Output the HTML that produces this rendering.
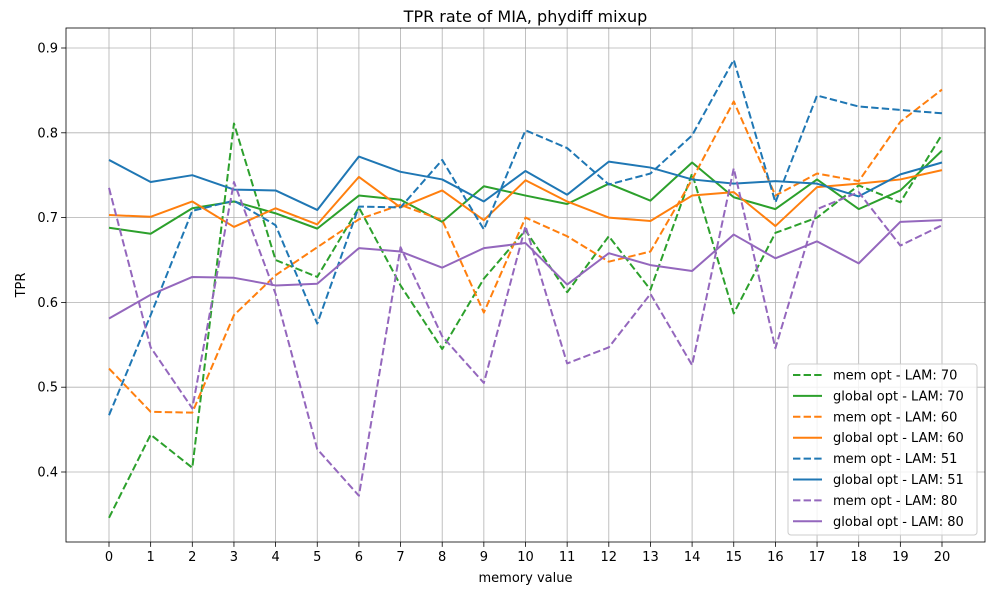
<!DOCTYPE html>
<html><head><meta charset="utf-8"><style>
body{margin:0;background:#fff;font-family:"Liberation Sans","DejaVu Sans",sans-serif}
</style></head><body>
<svg id="chart" width="1000" height="600" xmlns="http://www.w3.org/2000/svg" font-family="DejaVu Sans, Liberation Sans, sans-serif">
<rect width="1000" height="600" fill="#fff"/>
<g id="grid"></g><g id="lines"></g><g id="axes"></g><g id="legend"></g>
</svg>
<script>
const categories=[0,1,2,3,4,5,6,7,8,9,10,11,12,13,14,15,16,17,18,19,20];
const yTicks=[0.4,0.5,0.6,0.7,0.8,0.9];
const yTickLabels=["0.4","0.5","0.6","0.7","0.8","0.9"];
const seriesNames=["mem opt - LAM: 70","global opt - LAM: 70","mem opt - LAM: 60","global opt - LAM: 60","mem opt - LAM: 51","global opt - LAM: 51","mem opt - LAM: 80","global opt - LAM: 80"];
const mem70=[0.346,0.444,0.405,0.811,0.650,0.630,0.712,0.620,0.545,0.628,0.685,0.612,0.678,0.615,0.752,0.587,0.682,0.700,0.738,0.718,0.798];
const glob70=[0.688,0.681,0.711,0.719,0.705,0.687,0.726,0.721,0.695,0.737,0.726,0.716,0.740,0.720,0.765,0.724,0.710,0.745,0.710,0.732,0.779];
const mem60=[0.522,0.471,0.470,0.585,0.632,0.665,0.698,0.715,0.697,0.588,0.700,0.678,0.648,0.660,0.745,0.837,0.726,0.752,0.743,0.813,0.851];
const glob60=[0.703,0.701,0.719,0.689,0.711,0.692,0.748,0.712,0.732,0.697,0.744,0.719,0.700,0.696,0.726,0.730,0.690,0.736,0.740,0.745,0.756];
const mem51=[0.467,0.585,0.708,0.720,0.691,0.575,0.713,0.712,0.768,0.686,0.803,0.782,0.739,0.752,0.797,0.886,0.718,0.844,0.831,0.827,0.823];
const glob51=[0.768,0.742,0.750,0.733,0.732,0.709,0.772,0.754,0.745,0.719,0.755,0.727,0.766,0.759,0.745,0.740,0.743,0.740,0.725,0.751,0.765];
const mem80=[0.735,0.547,0.475,0.742,0.610,0.427,0.372,0.665,0.560,0.505,0.690,0.528,0.547,0.610,0.526,0.758,0.546,0.710,0.730,0.667,0.691];
const glob80=[0.581,0.609,0.630,0.629,0.620,0.622,0.664,0.660,0.641,0.664,0.670,0.621,0.658,0.644,0.637,0.680,0.652,0.672,0.646,0.695,0.697];

const NS="http://www.w3.org/2000/svg";
const L=66,R=985,T=28,B=542;
const xS=v=>109+v*(942-109)/20;
const yS=v=>472-(v-0.4)*848;
function mk(tag,attrs,parent){const e=document.createElementNS(NS,tag);for(const k in attrs)e.setAttribute(k,attrs[k]);parent.appendChild(e);return e;}
const grid=document.getElementById('grid'),lines=document.getElementById('lines'),axes=document.getElementById('axes'),legend=document.getElementById('legend');
categories.forEach(c=>{
  const g=mk('line',{x1:xS(c),x2:xS(c),y1:T,y2:B,stroke:'#b0b0b0','stroke-width':0.8},grid);
  
  
  mk('line',{x1:xS(c),x2:xS(c),y1:B,y2:B+4.9,stroke:'#000','stroke-width':0.8},axes);
  const t=mk('text',{x:xS(c),y:B+19,'font-size':13,'text-anchor':'middle',fill:'#000'},axes);
  t.textContent=c;
  
  
});
yTicks.forEach((v,i)=>{
  const g=mk('line',{x1:L,x2:R,y1:yS(v),y2:yS(v),stroke:'#b0b0b0','stroke-width':0.8},grid);
  
  
  mk('line',{x1:L-4.9,x2:L,y1:yS(v),y2:yS(v),stroke:'#000','stroke-width':0.8},axes);
  const t=mk('text',{x:L-8,y:yS(v)+4.5,'font-size':13,'text-anchor':'end',fill:'#000'},axes);
  t.textContent=yTickLabels[i];
  
  
});
const series=[[mem70,'#2ca02c',true],[glob70,'#2ca02c',false],[mem60,'#ff7f0e',true],[glob60,'#ff7f0e',false],[mem51,'#1f77b4',true],[glob51,'#1f77b4',false],[mem80,'#9467bd',true],[glob80,'#9467bd',false]];
series.forEach((s,i)=>{
  const pts=s[0].map((v,j)=>xS(categories[j])+','+yS(v)).join(' ');
  const p=mk('polyline',{points:pts,fill:'none',stroke:s[1],'stroke-width':2,'stroke-linejoin':'round'},lines);
  if(s[2])p.setAttribute('stroke-dasharray','7.4,3.2');
  
  
});
const frame=mk('rect',{x:L,y:T,width:R-L,height:B-T,fill:'none',stroke:'#000','stroke-width':0.8},axes);


const title=mk('text',{x:(L+R)/2,y:22,'font-size':16,'text-anchor':'middle',fill:'#000'},axes);
title.textContent='TPR rate of MIA, phydiff mixup';


const xl=mk('text',{x:(L+R)/2,y:582,'font-size':13,'text-anchor':'middle',fill:'#000'},axes);
xl.textContent='memory value';


const yl=mk('text',{x:0,y:0,'font-size':13,'text-anchor':'middle',fill:'#000',transform:'translate(25,285) rotate(-90)'},axes);
yl.textContent='TPR';


const lb=mk('rect',{x:788,y:364,width:189,height:171,rx:3,fill:'#fff','fill-opacity':0.8,stroke:'#ccc','stroke-width':1},legend);


series.forEach((s,i)=>{
  const y=375+i*20.9;
  const l=mk('line',{x1:793,x2:822,y1:y,y2:y,stroke:s[1],'stroke-width':2},legend);
  if(s[2])l.setAttribute('stroke-dasharray','7.4,3.2');
  
  
  const t=mk('text',{x:833,y:y+4.5,'font-size':13,fill:'#000'},legend);
  t.textContent=seriesNames[i];
  
  
});
</script>
</body></html>
